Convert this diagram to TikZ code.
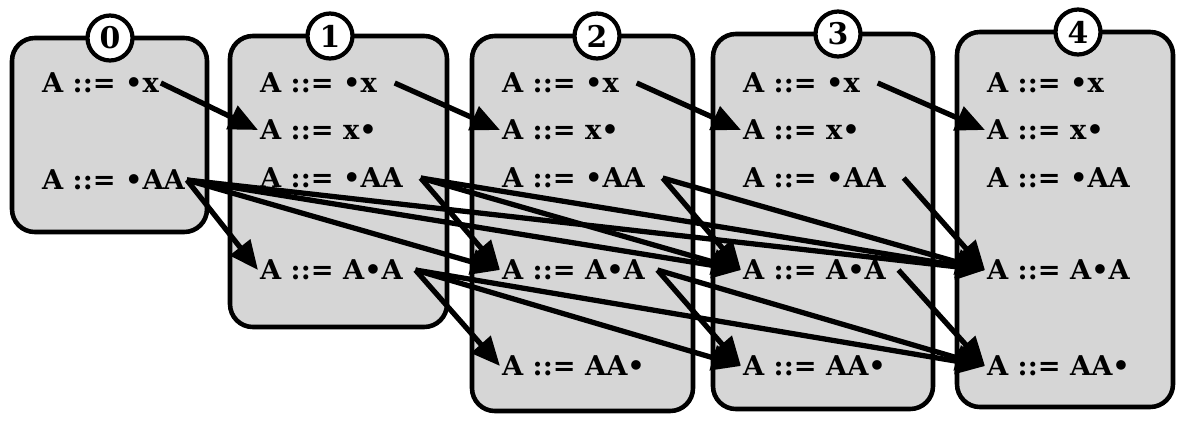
\documentclass[tikz,border=0pt]{standalone}
\usepackage{fontspec}
\setmainfont{DejaVu Serif}
\usetikzlibrary{arrows.meta}

\begin{document}
\begin{tikzpicture}[x=0.02cm, y=-0.02cm,
    set/.style={draw, line width=2.6pt, rounded corners=13pt, fill=black!16},
    num/.style={draw, circle, line width=2.4pt, fill=white, minimum size=0.9cm, inner sep=0pt, font=\fontsize{17}{17}\selectfont\bfseries},
    item/.style={anchor=west, inner sep=1pt, font=\fontsize{15.5}{15.5}\selectfont\bfseries},
    link/.style={line width=3pt, -{Triangle[length=0.58cm, width=0.5cm]}}]
  \useasboundingbox (0,0) rectangle (1179,420);
  % item sets
  \draw[set] (12,38) rectangle (207,232);
  \draw[set] (230,36) rectangle (447,327);
  \draw[set] (472,36) rectangle (693,411);
  \draw[set] (713,34) rectangle (933,409);
  \draw[set] (957,32) rectangle (1173,407);
  \node[num] (n0) at (110,38) {0};
  \node[num] (n1) at (330,36) {1};
  \node[num] (n2) at (597,36) {2};
  \node[num] (n3) at (838,34) {3};
  \node[num] (n4) at (1078,32) {4};
  % items
  \node[item] (dx0) at (40,83) {A ::= •x};
  \node[item] (daa0) at (40,180) {A ::= •AA};
  \foreach \k/\x in {1/258, 2/500, 3/741, 4/985} {
    \node[item] (dx\k) at (\x,83) {A ::= •x};
    \node[item] (xd\k) at (\x,130) {A ::= x•};
    \node[item] (daa\k) at (\x,178) {A ::= •AA};
    \node[item] (ada\k) at (\x,270) {A ::= A•A};
  }
  \foreach \k/\x in {2/500, 3/741, 4/985}
    \node[item] (aad\k) at (\x,366) {A ::= AA•};
  % scan, predict and complete links
  \foreach \i/\g in {0/0pt, 1/9pt, 2/9pt, 3/9pt} {
    \pgfmathtruncatemacro\n{\i+1}
    \draw[link] ([xshift=\g]dx\i.east) -- (xd\n.west);
    \foreach \j in {\n,...,4}
      \draw[link] ([xshift=\g]daa\i.east) -- (ada\j.west);
  }
  \foreach \i in {1,2,3} {
    \pgfmathtruncatemacro\n{\i+1}
    \foreach \j in {\n,...,4}
      \draw[link] ([xshift=6pt]ada\i.east) -- (aad\j.west);
  }
\end{tikzpicture}
\end{document}
